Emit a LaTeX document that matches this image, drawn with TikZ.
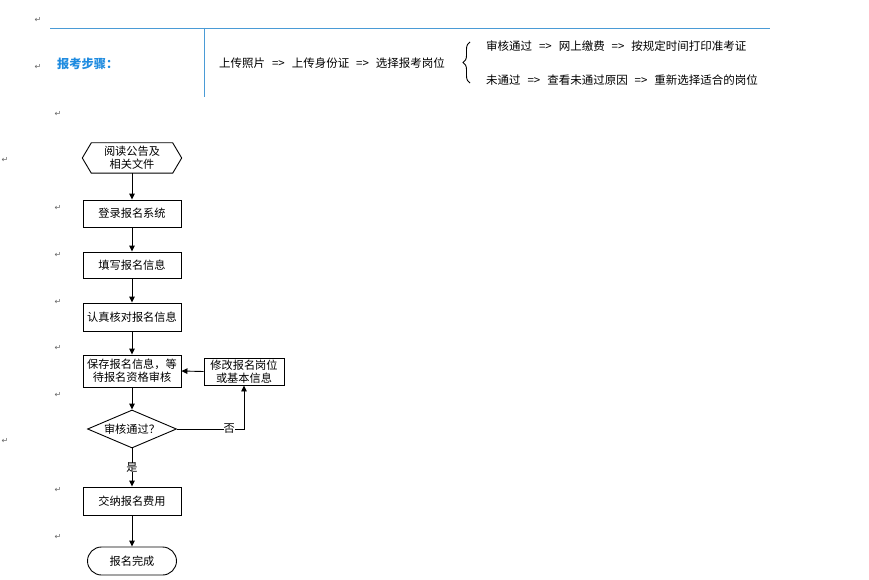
\documentclass[tikz,border=0pt]{standalone}
\usepackage{fontspec}
\newfontfamily\cjk{Noto Sans CJK SC}
\newfontfamily\symf{DejaVu Sans}
\usetikzlibrary{arrows.meta,shapes.geometric,decorations.pathreplacing}
\definecolor{lineblue}{HTML}{4A9BD6}
\definecolor{titleblue}{HTML}{1E8BE0}
\newcommand{\thento}{\hspace{0.6em}=>\hspace{0.6em}}
\tikzset{
  txt/.style={font=\cjk\fontsize{11.5pt}{13pt}\selectfont, inner sep=0pt, anchor=west},
  flow/.style={font=\cjk\fontsize{11.2pt}{13pt}\selectfont, align=center, inner sep=0pt},
  boxnode/.style={flow, draw, line width=0.9pt, minimum width=98pt},
  ret/.style={font=\symf\fontsize{8pt}{9pt}\selectfont, text=black!60, inner sep=0pt},
  arrow/.style={line width=0.9pt, -{Triangle[length=6pt,width=5.5pt]}},
  conn/.style={line width=0.9pt}
}
\begin{document}
\begin{tikzpicture}[x=1pt,y=-1pt]
\useasboundingbox[fill=white] (0,0) rectangle (869,580);

% header rule and divider
\draw[lineblue, line width=0.9pt] (50,28) -- (770,28);
\draw[lineblue, line width=0.9pt] (204,28) -- (204,97);

% header texts
\node[txt, text=titleblue, font=\cjk\bfseries\fontsize{12.2pt}{13pt}\selectfont] (title) at (57,64) {报考步骤：};
\node[txt] (steps) at (219,63) {上传照片\thento 上传身份证\thento 选择报考岗位};
\node[txt] (pass) at (486,46) {审核通过\thento 网上缴费\thento 按规定时间打印准考证};
\node[txt] (fail) at (486,80) {未通过\thento 查看未通过原因\thento 重新选择适合的岗位};
\draw[line width=0.9pt, decorate, decoration={brace, amplitude=7pt}] (470,83) -- (470,42);

% paragraph marks
\node[ret] (r1) at (38,20) {↵};
\node[ret] (r2) at (38,67) {↵};
\node[ret] (r3) at (58,114) {↵};
\node[ret] (r4) at (5,160) {↵};
\node[ret] (r5) at (58,208) {↵};
\node[ret] (r6) at (58,255) {↵};
\node[ret] (r7) at (58,302) {↵};
\node[ret] (r8) at (58,348) {↵};
\node[ret] (r9) at (58,395) {↵};
\node[ret] (r10) at (5,441) {↵};
\node[ret] (r11) at (58,490) {↵};
\node[ret] (r12) at (58,537) {↵};

% flowchart
\node[flow, minimum width=99pt, minimum height=30pt] (hex) at (132,158) {阅读公告及\\相关文件};
\draw[line width=0.9pt] (hex.west) -- ([xshift=9pt]hex.north west) -- ([xshift=-9pt]hex.north east)
  -- (hex.east) -- ([xshift=-9pt]hex.south east) -- ([xshift=9pt]hex.south west) -- cycle;

\node[boxnode, minimum height=27pt] (login) at (132,213.5) {登录报名系统};
\node[boxnode, minimum height=26pt] (fill) at (132,265) {填写报名信息};
\node[boxnode, minimum height=28pt] (check) at (132,317) {认真核对报名信息};
\node[boxnode, minimum height=32pt] (save) at (132,371) {保存报名信息，等\\待报名资格审核};
\node[boxnode, minimum width=80pt, minimum height=27pt] (modify) at (244,371.5) {修改报名岗位\\或基本信息};
\node[flow, draw, diamond, line width=0.9pt, aspect=2.34, minimum width=89pt, minimum height=38pt] (audit) at (132,429) {审核通过？};
\node[boxnode, minimum height=28pt] (pay) at (132,501) {交纳报名费用};
\node[flow, draw, line width=0.9pt, rounded corners=14pt, minimum width=89pt, minimum height=28pt] (done) at (132,561) {报名完成};

\draw[arrow] (hex.south) -- (login.north);
\draw[arrow] (login) -- (fill);
\draw[arrow] (fill) -- (check);
\draw[arrow] (check) -- (save);
\draw[arrow] (save.south) -- (audit.north);
\draw[arrow] (audit.south) -- node[pos=0.5, fill=white, inner sep=1pt, flow] (yes) {是} (pay.north);
\draw[arrow] (audit.east) -- node[pos=0.78, fill=white, inner sep=1pt, flow] (no) {否} (modify.south |- audit.east) -- (modify.south);
\draw[arrow] (modify.west) -- (save.east);
\draw[arrow] (pay.south) -- (done.north);
\end{tikzpicture}
\end{document}
